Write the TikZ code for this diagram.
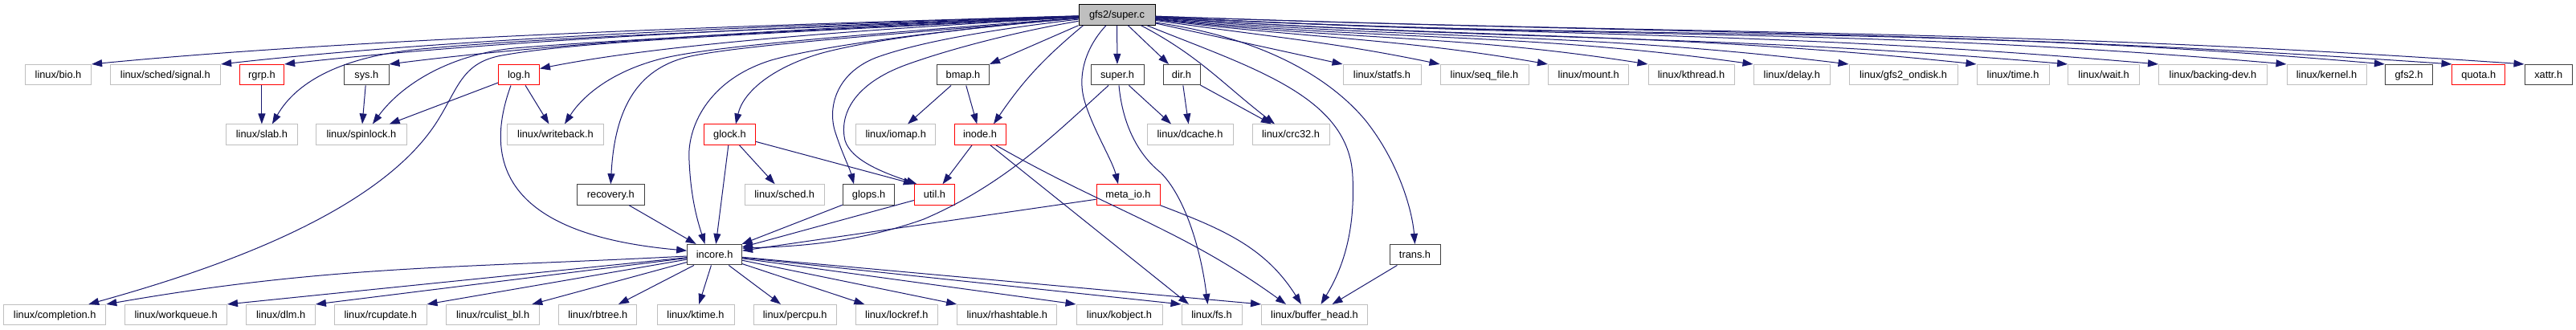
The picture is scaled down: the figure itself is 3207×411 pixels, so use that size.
\documentclass[tikz,border=0pt]{standalone}
\usepackage{fontspec}
\setmainfont{Liberation Sans}
\usetikzlibrary{arrows.meta}
\definecolor{edgeblue}{HTML}{191970}
\definecolor{extgray}{HTML}{BFBFBF}
\definecolor{intdark}{HTML}{404040}
\begin{document}
\begin{tikzpicture}[x=1pt,y=1pt,
  hbox/.style={draw, rectangle, minimum height=25.5pt, inner sep=0pt, line width=1pt,
    text height=10pt, text depth=2pt, font=\fontsize{12.8}{14}\selectfont},
  extn/.style={hbox, draw=extgray},
  intn/.style={hbox, draw=intdark},
  redn/.style={hbox, draw=red},
  rootn/.style={hbox, draw=black, fill=extgray},
  dep/.style={draw=edgeblue, line width=1pt, -{Triangle[length=13pt,width=9pt]}}]
\fill[white] (0,0) rectangle (3207,-411);
\useasboundingbox (0,0) rectangle (3207,-411);
% row 1
\node[rootn, minimum width=95pt] (superc) at (1390.5,-18.5) {gfs2/super.c};
% row 2
\node[extn, minimum width=82.2pt] (bio) at (72.5,-93.2) {linux/bio.h};
\node[extn, minimum width=137.6pt] (signal) at (205.8,-93.2) {linux/sched/signal.h};
\node[redn, minimum width=55.4pt] (rgrp) at (325.9,-93.2) {rgrp.h};
\node[intn, minimum width=55.4pt] (sys) at (456.3,-93.2) {sys.h};
\node[redn, minimum width=51pt] (log) at (646,-93.2) {log.h};
\node[intn, minimum width=65pt] (bmap) at (1199,-93.2) {bmap.h};
\node[intn, minimum width=66pt] (superh) at (1391,-93.2) {super.h};
\node[intn, minimum width=46pt] (dir) at (1471,-93.2) {dir.h};
\node[extn, minimum width=97pt] (statfs) at (1720.5,-93.2) {linux/statfs.h};
\node[extn, minimum width=110pt] (seqfile) at (1848,-93.2) {linux/seq\_file.h};
\node[extn, minimum width=100.5pt] (mount) at (1977.7,-93.2) {linux/mount.h};
\node[extn, minimum width=107pt] (kthread) at (2105.5,-93.2) {linux/kthread.h};
\node[extn, minimum width=95.6pt] (delay) at (2230.8,-93.2) {linux/delay.h};
\node[extn, minimum width=135pt] (ondisk) at (2369.5,-93.2) {linux/gfs2\_ondisk.h};
\node[extn, minimum width=90pt] (time) at (2506,-93.2) {linux/time.h};
\node[extn, minimum width=89pt] (wait) at (2619.1,-93.2) {linux/wait.h};
\node[extn, minimum width=135pt] (backing) at (2755,-93.2) {linux/backing-dev.h};
\node[extn, minimum width=99pt] (kernel) at (2896.5,-93.2) {linux/kernel.h};
\node[intn, minimum width=59.2pt] (gfstwo) at (2999,-93.2) {gfs2.h};
\node[redn, minimum width=65.7pt] (quota) at (3085.8,-93.2) {quota.h};
\node[intn, minimum width=59.4pt] (xattr) at (3172.7,-93.2) {xattr.h};
% row 3
\node[extn, minimum width=88.2pt] (slab) at (325.9,-167.7) {linux/slab.h};
\node[extn, minimum width=112.3pt] (spinlock) at (449.9,-167.7) {linux/spinlock.h};
\node[extn, minimum width=120pt] (writeback) at (691.5,-167.7) {linux/writeback.h};
\node[redn, minimum width=64.3pt] (glock) at (908.5,-167.7) {glock.h};
\node[extn, minimum width=98.8pt] (iomap) at (1115.2,-167.7) {linux/iomap.h};
\node[redn, minimum width=64pt] (inode) at (1220,-167.7) {inode.h};
\node[extn, minimum width=107pt] (dcache) at (1481.5,-167.7) {linux/dcache.h};
\node[extn, minimum width=96pt] (crc) at (1607,-167.7) {linux/crc32.h};
% row 4
\node[intn, minimum width=83.4pt] (recovery) at (760.3,-242.5) {recovery.h};
\node[extn, minimum width=99.4pt] (sched) at (976.7,-242.5) {linux/sched.h};
\node[intn, minimum width=64.7pt] (glops) at (1081.6,-242.5) {glops.h};
\node[redn, minimum width=50.4pt] (util) at (1163.5,-242.5) {util.h};
\node[redn, minimum width=79pt] (metaio) at (1404.5,-242.5) {meta\_io.h};
% row 5
\node[intn, minimum width=67.9pt] (incore) at (889.6,-317.2) {incore.h};
\node[intn, minimum width=63pt] (trans) at (1761.5,-317.2) {trans.h};
% row 6
\node[extn, minimum width=127.2pt] (completion) at (68.2,-392.2) {linux/completion.h};
\node[extn, minimum width=126.8pt] (workqueue) at (219.1,-392.2) {linux/workqueue.h};
\node[extn, minimum width=85.5pt] (dlm) at (349.7,-392.2) {linux/dlm.h};
\node[extn, minimum width=114.6pt] (rcupdate) at (473.7,-392.2) {linux/rcupdate.h};
\node[extn, minimum width=116.4pt] (rculist) at (613.6,-392.2) {linux/rculist\_bl.h};
\node[extn, minimum width=97.3pt] (rbtree) at (744.3,-392.2) {linux/rbtree.h};
\node[extn, minimum width=96pt] (ktime) at (866,-392.2) {linux/ktime.h};
\node[extn, minimum width=103.4pt] (percpu) at (989.7,-392.2) {linux/percpu.h};
\node[extn, minimum width=102pt] (lockref) at (1116.3,-392.2) {linux/lockref.h};
\node[extn, minimum width=124.3pt] (rhashtable) at (1253.8,-392.2) {linux/rhashtable.h};
\node[extn, minimum width=107pt] (kobject) at (1393.5,-392.2) {linux/kobject.h};
\node[extn, minimum width=75pt] (fs) at (1508.5,-392.2) {linux/fs.h};
\node[extn, minimum width=132pt] (bufferhead) at (1636.5,-392.2) {linux/buffer\_head.h};

% edges from gfs2/super.c, left side
\draw[dep] (superc) .. controls (900,-32) and (420,-50) .. (bio.north east);
\draw[dep] (superc) .. controls (950,-32) and (560,-48) .. (signal.north east);
\draw[dep] (superc) .. controls (980,-33) and (620,-50) .. (rgrp.north east);
\draw[dep] (superc) .. controls (1050,-33) and (720,-50) .. (sys.north east);
\draw[dep] (superc) .. controls (1150,-33) and (850,-50) .. ([yshift=-5.5pt]log.north east);
\draw[dep] (superc) .. controls (1000,-35) and (700,-45) .. (536,-60) .. controls (430,-68) and (370,-100) .. ([xshift=13pt]slab.north);
\draw[dep] (superc) .. controls (1000,-38) and (760,-50) .. (640,-60) .. controls (560,-68) and (500,-105) .. ([xshift=14pt]spinlock.north);
\draw[dep] (superc) .. controls (1000,-40) and (720,-50) .. (620,-70) .. controls (575,-80) and (570,-110) .. (545,-150) .. controls (470,-270) and (250,-340) .. ([xshift=42pt]completion.north);
\draw[dep] (superc) .. controls (1050,-45) and (880,-58) .. (820,-74) .. controls (760,-90) and (725,-120) .. ([xshift=11.5pt]writeback.north);
\draw[dep] (superc) .. controls (1150,-40) and (930,-55) .. (860,-70) .. controls (790,-85) and (765,-140) .. (recovery.north);
\draw[dep] (superc) .. controls (1200,-35) and (1030,-55) .. (960,-75) .. controls (880,-100) and (855,-160) .. (858,-200) .. controls (860,-250) and (870,-280) .. ([xshift=-12pt]incore.north);
\draw[dep] (superc) .. controls (1200,-35) and (1080,-50) .. (1020,-67) .. controls (960,-85) and (925,-115) .. ([xshift=7.5pt]glock.north);
\draw[dep] (superc) .. controls (1250,-35) and (1150,-50) .. (1090,-72) .. controls (1040,-92) and (1030,-135) .. (1040,-165) .. controls (1048,-190) and (1058,-210) .. ([xshift=-18.6pt]glops.north);
\draw[dep] (superc) .. controls (1290,-35) and (1200,-55) .. (1130,-80) .. controls (1060,-105) and (1045,-145) .. (1052,-175) .. controls (1060,-200) and (1100,-215) .. ([xshift=-22pt]util.north);
\draw[dep] (superc.south west) -- (bmap.north east);
\draw[dep] ([xshift=6pt]superc.south west) .. controls (1299.2,-72.8) and (1273.3,-101) .. ([xshift=17pt]inode.north);
% downward
\draw[dep] (superc) -- (superh);
\draw[dep] ([xshift=-13.5pt]superc.south) .. controls (1355,-55) and (1340,-90) .. (1350,-125) .. controls (1360,-160) and (1385,-200) .. ([xshift=-12.5pt]metaio.north);
\draw[dep] (superc) -- ([xshift=-16pt]dir.north);
\draw[dep] ([xshift=30pt]superc.south) .. controls (1492.4,-69.2) and (1522.9,-105.1) .. ([xshift=-20pt]crc.north);
\draw[dep] ([xshift=37.5pt]superc.south) .. controls (1560,-85) and (1680,-120) .. (1684,-220) .. controls (1688,-300) and (1665,-345) .. ([xshift=8pt]bufferhead.north);
\draw[dep] ([yshift=-9.5pt]superc.east) .. controls (1560,-45) and (1650,-90) .. (1700,-150) .. controls (1740,-200) and (1758,-260) .. (trans.north);
% right side
\draw[dep] (superc) -- (statfs.north west);
\draw[dep] (superc) .. controls (1577,-45.5) and (1655,-51.5) .. (seqfile.north west);
\draw[dep] (superc) .. controls (1629,-48) and (1737,-47) .. (mount.north west);
\draw[dep] (superc) .. controls (1678,-50.4) and (1813,-42.7) .. (kthread.north west);
\draw[dep] (superc) .. controls (1728,-51.5) and (1894,-39.9) .. (delay.north west);
\draw[dep] (superc) .. controls (1776,-50.5) and (1965,-39.2) .. (ondisk.north west);
\draw[dep] (superc) .. controls (1838,-49) and (2062,-38.6) .. (time.north west);
\draw[dep] (superc) .. controls (1882,-52) and (2131,-41.7) .. (wait.north west);
\draw[dep] (superc) .. controls (1927,-46.6) and (2199,-37.8) .. (backing.north west);
\draw[dep] (superc) .. controls (1989,-49.9) and (2297,-32.4) .. (kernel.north west);
\draw[dep] (superc) .. controls (2037,-52.4) and (2372,-28.2) .. (gfstwo.north west);
\draw[dep] (superc) .. controls (2071,-43) and (2421.5,-36.3) .. (quota.north west);
\draw[dep] (superc) .. controls (2106,-44.3) and (2477,-33.9) .. (xattr.north west);

% second level
\draw[dep] (rgrp) -- (slab);
\draw[dep] (sys) -- (spinlock);
\draw[dep] (log) -- (spinlock);
\draw[dep] (log) -- (writeback);
\draw[dep] ([xshift=-10pt]log.south) .. controls (580,-260) and (720,-300) .. ([yshift=5pt]incore.west);
\draw[dep] (bmap) -- (iomap);
\draw[dep] (bmap) -- (inode);
\draw[dep] (superh) -- ([xshift=-23.5pt]dcache.north);
\draw[dep] ([xshift=-11pt]superh.south) .. controls (1310,-170) and (1250,-230) .. (1150,-273) .. controls (1060,-305) and (980,-307) .. ([yshift=8pt]incore.east);
\draw[dep] ([xshift=2pt]superh.south) .. controls (1398,-160) and (1420,-195) .. (1445,-215) .. controls (1475,-245) and (1495,-310) .. ([xshift=-5pt]fs.north);
\draw[dep] (dir) -- (dcache);
\draw[dep] (dir) -- (crc);
% third level
\draw[dep] (glock) -- (incore);
\draw[dep] (glock) -- (sched);
\draw[dep] (glock) -- (util.north west);
\draw[dep] (inode) -- (util);
\draw[dep] ([xshift=13pt]inode.south) -- ([xshift=-28.5pt]fs.north);
\draw[dep] ([xshift=20pt]inode.south) .. controls (1379.4,-260.8) and (1470.7,-284.9) .. ([xshift=-35.5pt]bufferhead.north);
\draw[dep] (recovery) -- (incore);
\draw[dep] (glops) -- (incore);
\draw[dep] (util) -- (incore);
\draw[dep] (metaio) -- (incore);
\draw[dep] (metaio.south east) .. controls (1522.7,-285.5) and (1575.3,-308) .. ([xshift=-16.5pt]bufferhead.north);
\draw[dep] (trans) -- (bufferhead);
% incore.h
\draw[dep] (incore) .. controls (572,-333.9) and (411.5,-330.2) .. (completion.north east);
\draw[dep] (incore) -- (workqueue.north east);
\draw[dep] (incore) -- (dlm.north east);
\draw[dep] (incore) -- (rcupdate.north east);
\draw[dep] (incore) -- (rculist);
\draw[dep] (incore) -- (rbtree);
\draw[dep] (incore) -- (ktime);
\draw[dep] (incore) -- (percpu);
\draw[dep] (incore) -- (lockref);
\draw[dep] (incore) -- (rhashtable.north west);
\draw[dep] (incore) -- (kobject.north west);
\draw[dep] (incore) -- (fs.north west);
\draw[dep] (incore) -- (bufferhead.north west);
\end{tikzpicture}
\end{document}
